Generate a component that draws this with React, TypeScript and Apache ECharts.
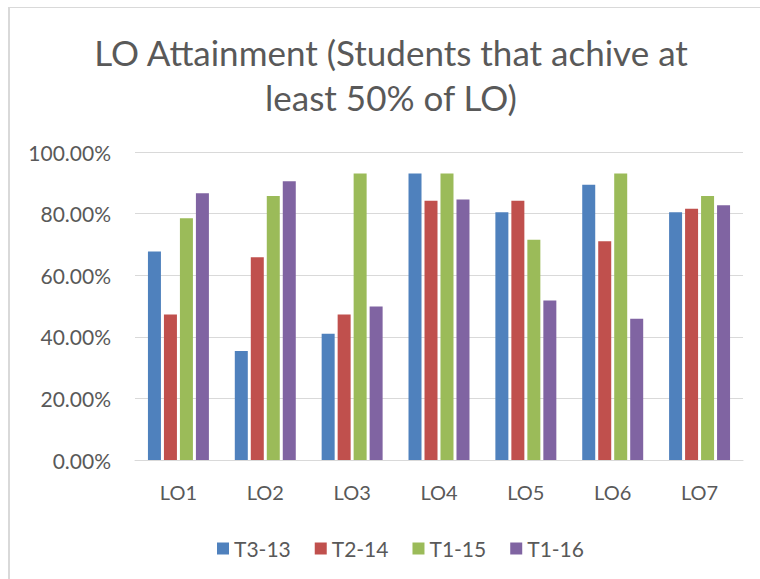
import React, { useEffect, useRef } from "react";
import * as echarts from "echarts";

const categories = ["LO1", "LO2", "LO3", "LO4", "LO5", "LO6", "LO7"];
const seriesNames = ["T3-13", "T2-14", "T1-15", "T1-16"];
const t313 = [67.7, 35.4, 41.0, 93.0, 80.4, 89.4, 80.4];
const t214 = [47.2, 65.8, 47.2, 84.2, 84.2, 71.0, 81.6];
const t115 = [78.5, 85.7, 93.0, 93.0, 71.5, 93.0, 85.7];
const t116 = [86.6, 90.5, 49.8, 84.6, 51.8, 45.9, 82.7];
const seriesValues = [t313, t214, t115, t116];
const colors = ["#4f81bd", "#c0504d", "#9bbb59", "#8064a2"];
const titleLines = ["LO Attainment (Students that achive at", "least 50% of LO)"];

const FONT = "Lato, 'Open Sans', sans-serif";
const TEXT = "#595959";

export default function App() {
  const ref = useRef<HTMLDivElement>(null);
  useEffect(() => {
    if (!ref.current) return;
    const chart = echarts.init(ref.current, null, { renderer: "svg" });
    chart.setOption({
      animation: false,
      backgroundColor: "#ffffff",
      color: colors,
      textStyle: { fontFamily: FONT },
      graphic: [
        { type: "line", shape: { x1: 8, y1: 7.5, x2: 760, y2: 7.5 }, style: { stroke: "#d9d9d9", lineWidth: 1 } },
        { type: "line", shape: { x1: 9, y1: 7, x2: 9, y2: 579 }, style: { stroke: "#d9d9d9", lineWidth: 2 } },
        {
          type: "text", x: 391, y: 52,
          style: { text: titleLines[0], fill: TEXT, font: `35px ${FONT}`, align: "center", verticalAlign: "middle" },
        },
        {
          type: "text", x: 391, y: 97,
          style: { text: titleLines[1], fill: TEXT, font: `35px ${FONT}`, align: "center", verticalAlign: "middle" },
        },
      ],
      legend: {
        data: seriesNames,
        left: 212,
        top: 533,
        itemWidth: 12,
        itemHeight: 12,
        itemGap: 24,
        icon: "rect",
        textStyle: { color: TEXT, fontSize: 21, fontFamily: FONT, padding: [0, 0, 0, 0] },
      },
      grid: { left: 135, right: 17, top: 152, bottom: 119, containLabel: false },
      xAxis: {
        type: "category",
        data: categories,
        axisLine: { lineStyle: { color: "#d9d9d9", width: 1 } },
        axisTick: { show: false },
        axisLabel: { color: TEXT, fontSize: 20, fontFamily: FONT, margin: 22 },
      },
      yAxis: {
        type: "value",
        min: 0,
        max: 100,
        interval: 20,
        axisLine: { show: false },
        axisTick: { show: false },
        splitLine: { lineStyle: { color: "#d9d9d9", width: 1 } },
        axisLabel: {
          color: TEXT, fontSize: 21, fontFamily: FONT, margin: 24,
          formatter: (v: number) => v.toFixed(2) + "%",
        },
      },
      series: seriesNames.map((name, i) => ({
        name,
        type: "bar",
        data: seriesValues[i],
        barWidth: 13,
        barGap: "23%",
        itemStyle: { color: colors[i] },
      })),
    });
    return () => chart.dispose();
  }, []);
  return <div ref={ref} style={{ position: "fixed", left: 0, top: 0, width: 760, height: 579 }} />;
}
